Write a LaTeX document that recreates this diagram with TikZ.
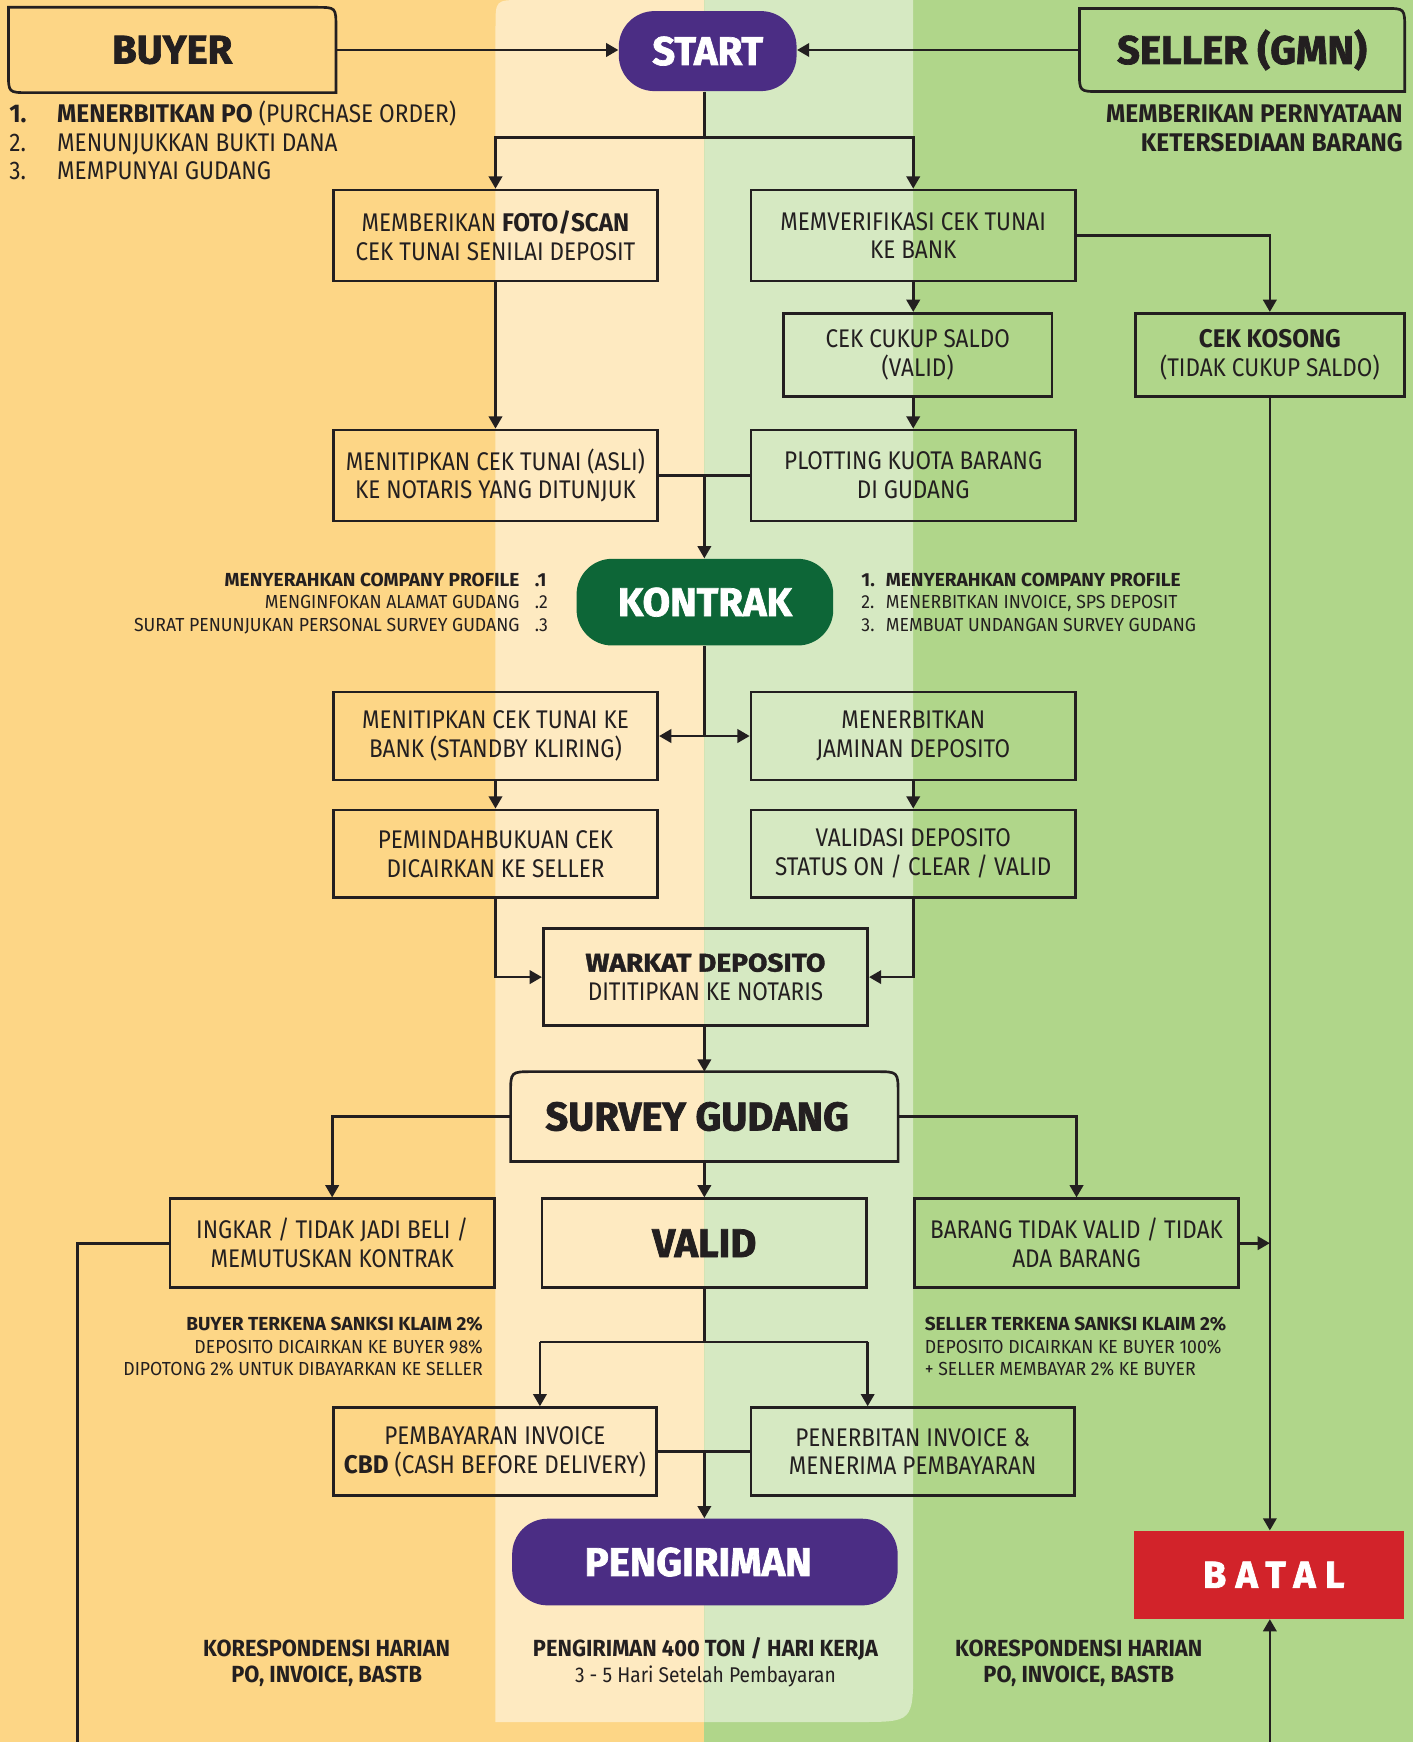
\documentclass[tikz,border=0pt]{standalone}
\usepackage{fontspec}
\setmainfont{Fira Sans}
\newfontfamily\cf{Fira Sans}[FakeStretch=0.88, BoldFeatures={FakeStretch=0.95}]
\newfontfamily\lf{Fira Sans}[FakeStretch=0.885, BoldFeatures={FakeStretch=0.96}]
\newfontfamily\fsm{Fira Sans}[FakeStretch=0.935, BoldFeatures={FakeStretch=1.01}]
\newfontfamily\fbt{Fira Sans}[FakeStretch=0.9, BoldFeatures={FakeStretch=0.935}]
\newfontfamily\heavy{Fira Sans}[UprightFont={* Bold}, FakeBold=1.8]
\newfontfamily\widef{Fira Sans}[UprightFont={* Bold}, FakeBold=1.4, FakeStretch=1.10]
\newfontfamily\batalf{Fira Sans}[UprightFont={* Bold}, FakeBold=1.8, LetterSpace=25]
\usetikzlibrary{arrows.meta,calc}
\definecolor{ink}{HTML}{231F20}
\definecolor{org}{HTML}{FDD686}
\definecolor{lorg}{HTML}{FEEAC1}
\definecolor{grn}{HTML}{B0D68A}
\definecolor{lgrn}{HTML}{D6E9C2}
\definecolor{purp}{HTML}{4B2D84}
\definecolor{dgreen}{HTML}{0D6637}
\definecolor{batred}{HTML}{D2232A}
\tikzset{
  ln/.style={draw=ink, line width=1.2pt},
  arr/.style={draw=ink, line width=1.2pt, -{Triangle[width=6pt,length=5.5pt]}},
  bx/.style={draw=ink, line width=1.2pt, inner sep=0pt, align=center, text=ink,
    font=\cf\fontsize{11.5}{13}\selectfont, minimum width=146pt, minimum height=41pt},
  hd/.style={inner sep=0pt, text=ink, font=\heavy\fontsize{18}{20}\selectfont},
  pill/.style={rounded corners=16pt, inner sep=0pt, text=white, font=\heavy\fontsize{18}{20}\selectfont},
  lst/.style={inner sep=0pt, text=ink, font=\lf\fontsize{11.5}{13}\selectfont},
  sm/.style={inner sep=0pt, text=ink, font=\fsm\fontsize{8.5}{10}\selectfont},
  bt/.style={inner sep=0pt, text=ink, font=\fbt\fontsize{10.5}{12}\selectfont},
}
\begin{document}
\begin{tikzpicture}[x=0.5pt,y=-0.5pt]
\useasboundingbox (0,0) rectangle (1272,1568);
% backgrounds
\fill[org] (0,0) rectangle (634,1568);
\fill[grn] (634,0) rectangle (1272,1568);
\fill[lorg] (634,0) -- (470,0) .. controls (446,0) .. (446,24) -- (446,1550) -- (634,1550) -- cycle;
\fill[lgrn] (634,0) -- (822,0) -- (822,1500) .. controls (822,1550) .. (772,1550) -- (634,1550) -- cycle;

% header boxes
\node[hd, minimum width=147pt, minimum height=38pt] (buyer) at (155,45) {BUYER};
\draw[ln] (buyer.north west) -- ([xshift=-9pt]buyer.north east) .. controls (buyer.north east) .. ([yshift=-9pt]buyer.north east) -- (buyer.south east) -- ([xshift=9pt]buyer.south west) .. controls (buyer.south west) .. ([yshift=9pt]buyer.south west) -- cycle;
\node[hd, minimum width=146pt, minimum height=37pt] (seller) at (1118,45) {SELLER (GMN)};
\draw[ln] (seller.north west) -- ([xshift=-9pt]seller.north east) .. controls (seller.north east) .. ([yshift=-9pt]seller.north east) -- (seller.south east) -- ([xshift=9pt]seller.south west) .. controls (seller.south west) .. ([yshift=9pt]seller.south west) -- cycle;
\node[pill, fill=purp, minimum width=80pt, minimum height=36pt] (start) at (637,46) {START};

% top lists
\node[lst, anchor=base west] (l1n) at (8,110) {\bfseries 1.};
\node[lst, anchor=base west] (l1) at (51,110) {\textbf{MENERBITKAN PO} (PURCHASE ORDER)};
\node[lst, anchor=base west] (l2n) at (8,136) {2.};
\node[lst, anchor=base west] (l2) at (51,136) {MENUNJUKKAN BUKTI DANA};
\node[lst, anchor=base west] (l3n) at (8,162) {3.};
\node[lst, anchor=base west] (l3) at (51,162) {MEMPUNYAI GUDANG};
\node[lst, anchor=base east] (r1) at (1263,110) {\bfseries MEMBERIKAN PERNYATAAN};
\node[lst, anchor=base east] (r2) at (1263,136) {\bfseries KETERSEDIAAN BARANG};

% boxes
\node[bx] (a1) at (446,212) {MEMBERIKAN \textbf{FOTO/SCAN}\\CEK TUNAI SENILAI DEPOSIT};
\node[bx] (b1) at (822,212) {MEMVERIFIKASI CEK TUNAI\\KE BANK};
\node[bx, minimum width=121pt, minimum height=37.5pt] (b2) at (826,319.5) {CEK CUKUP SALDO\\(VALID)};
\node[bx, minimum width=121pt, minimum height=37.5pt] (ck) at (1143,319.5) {\textbf{CEK KOSONG}\\(TIDAK CUKUP SALDO)};
\node[bx] (b3) at (822,428) {PLOTTING KUOTA BARANG\\DI GUDANG};
\node[bx] (a2) at (446,428) {MENITIPKAN CEK TUNAI (ASLI)\\KE NOTARIS YANG DITUNJUK};
\node[pill, fill=dgreen, minimum width=115.5pt, minimum height=39pt] (kon) at (634.5,542) {KONTRAK};

% kontrak lists
\node[sm, anchor=base east] (kl1) at (468,528) {\bfseries MENYERAHKAN COMPANY PROFILE};
\node[sm, anchor=base west] (kl1n) at (481,528) {\bfseries .1};
\node[sm, anchor=base east] (kl2) at (468,548) {MENGINFOKAN ALAMAT GUDANG};
\node[sm, anchor=base west] (kl2n) at (481,548) {.2};
\node[sm, anchor=base east] (kl3) at (468,568) {SURAT PENUNJUKAN PERSONAL SURVEY GUDANG};
\node[sm, anchor=base west] (kl3n) at (481,568) {.3};
\node[sm, anchor=base west] (kr1n) at (775,528) {\bfseries 1.};
\node[sm, anchor=base west] (kr1) at (797,528) {\bfseries MENYERAHKAN COMPANY PROFILE};
\node[sm, anchor=base west] (kr2n) at (775,548) {2.};
\node[sm, anchor=base west] (kr2) at (797,548) {MENERBITKAN INVOICE, SPS DEPOSIT};
\node[sm, anchor=base west] (kr3n) at (775,568) {3.};
\node[sm, anchor=base west] (kr3) at (797,568) {MEMBUAT UNDANGAN SURVEY GUDANG};

\node[bx, minimum height=39.5pt] (a3) at (446,662.5) {MENITIPKAN CEK TUNAI KE\\BANK (STANDBY KLIRING)};
\node[bx, minimum height=39.5pt] (b4) at (822,662.5) {MENERBITKAN\\JAMINAN DEPOSITO};
\node[bx, minimum height=39.5pt] (a4) at (446,768.5) {PEMINDAHBUKUAN CEK\\DICAIRKAN KE SELLER};
\node[bx, minimum height=39.5pt] (b5) at (822,768.5) {VALIDASI DEPOSITO\\STATUS ON / CLEAR / VALID};
\node[bx, minimum height=43.5pt] (w) at (635,879.5) {{\widef WARKAT DEPOSITO}\\DITITIPKAN KE NOTARIS};

\node[hd, minimum width=174pt, minimum height=40pt] (sv) at (634,1005) {SURVEY GUDANG\kern6.5pt};
\draw[ln] (sv.south west) -- ([yshift=-10pt]sv.north west) .. controls (sv.north west) .. ([xshift=10pt]sv.north west) -- ([xshift=-10pt]sv.north east) .. controls (sv.north east) .. ([yshift=-10pt]sv.north east) -- (sv.south east) -- cycle;

\node[bx, minimum height=40pt] (ing) at (299,1119) {INGKAR / TIDAK JADI BELI /\\MEMUTUSKAN KONTRAK};
\node[bx, minimum height=40pt, font=\heavy\fontsize{18}{20}\selectfont] (val) at (634,1119) {VALID};
\node[bx, minimum height=40pt] (bar) at (969,1119) {BARANG TIDAK VALID / TIDAK\\ADA BARANG};

\node[sm, anchor=base east] (s1) at (435,1198) {\bfseries BUYER TERKENA SANKSI KLAIM 2\%};
\node[sm, anchor=base east] (s2) at (435,1218) {DEPOSITO DICAIRKAN KE BUYER 98\%};
\node[sm, anchor=base east] (s3) at (435,1238) {DIPOTONG 2\% UNTUK DIBAYARKAN KE SELLER};
\node[sm, anchor=base west] (t1) at (832,1198) {\bfseries SELLER TERKENA SANKSI KLAIM 2\%};
\node[sm, anchor=base west] (t2) at (832,1218) {DEPOSITO DICAIRKAN KE BUYER 100\%};
\node[sm, anchor=base west] (t3) at (832,1238) {+ SELLER MEMBAYAR 2\% KE BUYER};

\node[bx, minimum width=145.5pt, minimum height=39.5pt] (p1) at (445.5,1306.5) {PEMBAYARAN INVOICE\\\textbf{CBD} (CASH BEFORE DELIVERY)};
\node[bx, minimum width=145.5pt, minimum height=39.5pt] (p2) at (821.5,1306.5) {PENERBITAN INVOICE \&\\MENERIMA PEMBAYARAN};
\node[pill, fill=purp, minimum width=173.5pt, minimum height=39pt] (peng) at (634.5,1406) {PENGIRIMAN\kern6pt};
\node[fill=batred, inner sep=0pt, minimum width=121.5pt, minimum height=39.5pt, text=white, font=\batalf\fontsize{17}{20}\selectfont] (batal) at (1142.5,1417.5) {\kern4pt BATAL};

% bottom texts
\node[bt, anchor=base] (k1a) at (294,1491) {\bfseries KORESPONDENSI HARIAN};
\node[bt, anchor=base] (k1b) at (294,1514) {\bfseries PO, INVOICE, BASTB};
\node[bt, anchor=base] (m1) at (635,1491) {\bfseries PENGIRIMAN 400 TON / HARI KERJA};
\node[bt, anchor=base, font=\fbt\fontsize{9.6}{12}\selectfont] (m2) at (635,1514) {3 - 5 Hari Setelah Pembayaran};
\node[bt, anchor=base] (k2a) at (971,1491) {\bfseries KORESPONDENSI HARIAN};
\node[bt, anchor=base] (k2b) at (971,1514) {\bfseries PO, INVOICE, BASTB};

% connectors
\draw[arr] (buyer.east) -- (buyer.east -| start.west);
\draw[arr] (seller.west) -- (seller.west -| start.east);
\coordinate (j1) at (634,124);
\draw[ln] (start.south -| j1) -- (j1);
\draw[arr] (j1) -| (a1.north);
\draw[arr] (j1) -| (b1.north);
\draw[arr] (b1.east) -| (ck.north);
\draw[arr] (b1.south) -- (b1.south |- b2.north);
\draw[arr] (b2.south -| b1.south) -- (b3.north);
\draw[arr] (a1.south) -- (a2.north);
\coordinate (j2) at (634,428);
\draw[ln] (a2.east) -- (b3.west);
\draw[arr] (j2) -- (kon.north -| j2);
\coordinate (j3) at (634,662.5);
\draw[ln] (kon.south -| j3) -- (j3);
\draw[arr] (j3) -- (a3.east);
\draw[arr] (j3) -- (b4.west);
\draw[arr] (a3.south) -- (a4.north);
\draw[arr] (b4.south) -- (b5.north);
\draw[arr] (a4.south) |- (w.west);
\draw[arr] (b5.south) |- (w.east);
\draw[arr] (w.south -| j3) -- (sv.north -| j3);
\draw[arr] (sv.west) -| (ing.north);
\draw[arr] (sv.east) -| (bar.north);
\draw[arr] (sv.south -| j3) -- (val.north -| j3);
\coordinate (e1) at (70,1568);
\draw[ln] (ing.west) -| (e1);
\draw[arr] (ck.south) -- (batal.north -| ck.south);
\draw[arr] (bar.east) -- (bar.east -| ck.south);
\coordinate (e2) at (1143,1568);
\draw[arr] (e2) -- (batal.south -| e2);
\coordinate (j5) at (634,1208);
\draw[ln] (val.south -| j5) -- (j5);
\coordinate (p1c) at (486,1208);
\coordinate (p2c) at (781,1208);
\draw[ln] (p1c) -- (p2c);
\draw[arr] (p1c) -- (p1c |- p1.north);
\draw[arr] (p2c) -- (p2c |- p2.north);
\coordinate (j6) at (634,1306.5);
\draw[ln] (p1.east) -- (p2.west);
\draw[arr] (j6) -- (peng.north -| j6);
\end{tikzpicture}
\end{document}
